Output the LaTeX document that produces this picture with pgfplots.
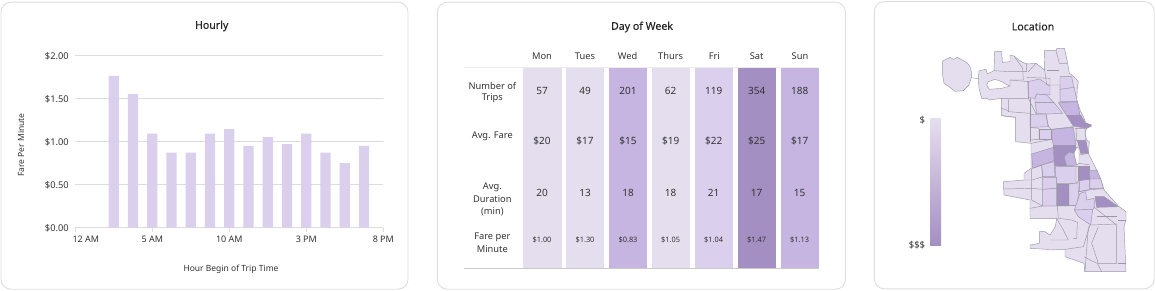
\documentclass[border=0pt]{standalone}
\usepackage{pgfplots}
\usepackage{fontspec}
\pgfplotsset{compat=1.18}
\setmainfont{Noto Sans}
\newfontfamily\titlefont[FakeBold=0.25]{Noto Sans}
\definecolor{cA}{HTML}{E5DEEF}
\definecolor{cB}{HTML}{DACFED}
\definecolor{cC}{HTML}{C5B5E0}
\definecolor{cD}{HTML}{A48FC2}
\definecolor{txt}{HTML}{333333}
\definecolor{cardline}{HTML}{DDDDDD}
\definecolor{mapline}{HTML}{9A96A4}
\definecolor{gridc}{HTML}{DCDCDC}
\pgfplotsset{
  overlayaxis/.style={scale only axis, hide axis, clip=false, y dir=reverse, ymin=0, ymax=870, xmin=0, anchor=south west},
  reg/.style={fill=#1, draw=mapline, line width=0.45pt, line join=round, mark=none, forget plot},
  ln/.style={draw=mapline, line width=0.45pt, line join=round, mark=none, forget plot},
  cell/.style={fill=#1, draw=none, mark=none, forget plot},
}
\newcommand{\tx}[4]{\node[text=txt,font=\fontsize{#3}{#3}\selectfont,anchor=center,inner sep=0pt] at (axis cs:#1,#2) {#4};}
\begin{document}
\begin{tikzpicture}[x=1pt,y=1pt]
\path[use as bounding box] (0,0) rectangle (1155,290);
\draw[cardline,line width=0.9pt,rounded corners=10pt] (1,0.8) rectangle (408,287.8);
\draw[cardline,line width=0.9pt,rounded corners=10pt] (437.3,0.8) rectangle (845.5,287.8);
\draw[cardline,line width=0.9pt,rounded corners=10pt] (874.3,1.2) rectangle (1154.2,288.5);
\node[text=black!85,font=\titlefont\fontsize{10.6}{12}\selectfont] at (211.7,264) {Hourly};
\node[text=black!85,font=\titlefont\fontsize{10.6}{12}\selectfont] at (642,263) {Day of Week};
\node[text=black!85,font=\titlefont\fontsize{10.6}{12}\selectfont] at (1033,263.5) {Location};

% ---------- Hourly bars
\begin{axis}[
  at={(75.3pt,62.3pt)}, anchor=south west, scale only axis,
  width=308pt, height=172.4pt,
  xmin=0, xmax=16, ymin=0, ymax=2,
  axis x line*=bottom, axis y line*=left,
  y axis line style={draw=none},
  x axis line style={draw=gridc,line width=0.8pt},
  xtick={0,4,8,12,16}, xticklabels={\hspace*{21pt}12 AM,5 AM,10 AM,3 PM,8 PM},
  ytick={0,0.5,1,1.5,2}, yticklabels={\$0.00,\$0.50,\$1.00,\$1.50,\$2.00},
  x tick style={draw=gridc,line width=0.8pt}, y tick style={draw=none},
  major tick length=4pt,
  tick align=outside,
  ymajorgrids, grid style={draw=gridc,line width=0.7pt},
  xticklabel style={text=txt,font=\fontsize{9}{11}\selectfont,yshift=-1pt},
  yticklabel style={text=txt,font=\fontsize{9.3}{11}\selectfont,xshift=1pt,yshift=-0.8pt},
  clip=false,
]
\addplot[ybar, bar width=10.2pt, fill=cB, draw=none] coordinates {
 (2,1.76)(3,1.55)(4,1.09)(5,0.87)(6,0.87)(7,1.09)(8,1.145)(9,0.95)(10,1.05)(11,0.97)(12,1.09)(13,0.87)(14,0.75)(15,0.95)};
\end{axis}
\node[text=txt,font=\fontsize{8.5}{10}\selectfont,rotate=90] at (21,145) {Fare Per Minute};
\node[text=txt,font=\fontsize{8.5}{10}\selectfont] at (231,20.5) {Hour Begin of Trip Time};

% ---------- Day of Week heat table
\begin{axis}[overlayaxis, at={(430pt,0pt)}, width=420pt, height=290pt, xmax=1260]
\addplot[cell=cA] coordinates {(280,205)(395,205)(395,805)(280,805)} -- cycle;
\addplot[cell=cA] coordinates {(408,205)(523,205)(523,805)(408,805)} -- cycle;
\addplot[cell=cC] coordinates {(537,205)(652,205)(652,805)(537,805)} -- cycle;
\addplot[cell=cA] coordinates {(666,205)(781,205)(781,805)(666,805)} -- cycle;
\addplot[cell=cB] coordinates {(795,205)(910,205)(910,805)(795,805)} -- cycle;
\addplot[cell=cD] coordinates {(924,205)(1039,205)(1039,805)(924,805)} -- cycle;
\addplot[cell=cC] coordinates {(1053,205)(1168,205)(1168,805)(1053,805)} -- cycle;
\addplot[draw=black!7,line width=1.6pt,forget plot] coordinates {(102,203)(1168,203)};
\addplot[draw=black!20,line width=0.7pt,forget plot] coordinates {(102,805)(1168,805)};
\tx{336}{169}{9.3}{Mon}\tx{465}{169}{9.3}{Tues}\tx{593}{169}{9.3}{Wed}\tx{722}{169}{9.3}{Thurs}\tx{853}{169}{9.3}{Fri}\tx{980}{169}{9.3}{Sat}\tx{1110}{169}{9.3}{Sun}
\tx{187}{258}{9.3}{Number of}\tx{187}{295}{9.3}{Trips}
\tx{187}{408}{9.3}{Avg. Fare}
\tx{187}{563}{9.3}{Avg.}\tx{187}{598}{9.3}{Duration}\tx{187}{634}{9.3}{(min)}
\tx{187}{711}{9.3}{Fare per}\tx{187}{746}{9.3}{Minute}
\tx{336}{273}{10}{57}\tx{465}{273}{10}{49}\tx{594}{273}{10}{201}\tx{722}{273}{10}{62}\tx{851}{273}{10}{119}\tx{980}{273}{10}{354}\tx{1109}{273}{10}{188}
\tx{336}{422}{10}{\$20}\tx{465}{422}{10}{\$17}\tx{594}{422}{10}{\$15}\tx{722}{422}{10}{\$19}\tx{851}{422}{10}{\$22}\tx{980}{422}{10}{\$25}\tx{1109}{422}{10}{\$17}
\tx{336}{578}{10}{20}\tx{465}{578}{10}{13}\tx{594}{578}{10}{18}\tx{722}{578}{10}{18}\tx{851}{578}{10}{21}\tx{980}{578}{10}{17}\tx{1109}{578}{10}{15}
\tx{336}{721}{7.4}{\$1.00}\tx{465}{721}{7.4}{\$1.30}\tx{594}{721}{7.4}{\$0.83}\tx{722}{721}{7.4}{\$1.05}\tx{851}{721}{7.4}{\$1.04}\tx{980}{721}{7.4}{\$1.47}\tx{1109}{721}{7.4}{\$1.13}
\end{axis}

% ---------- Location map
\begin{axis}[overlayaxis, at={(870pt,0pt)}, width=285pt, height=290pt, xmax=855]
% colour scale
\shade[top color=cA, middle color=cC, bottom color=cD] (axis cs:180,354) rectangle (axis cs:213,735);
\node[text=txt,font=\fontsize{9.5}{11}\selectfont,anchor=east,inner sep=0pt] at (axis cs:166,361) {\$};
\node[text=txt,font=\fontsize{9.5}{11}\selectfont,anchor=east,inner sep=0pt] at (axis cs:166,735) {\$\$\$};
% O'Hare
\addplot[reg=cA] coordinates {(218,183)(228,178)(240,172)(250,178)(262,172)(280,182)(293,190)(300,200)(304,215)(304,233)(297,255)(280,272)(255,274)(240,262)(222,250)(218,225)} -- cycle;
\addplot[ln] coordinates {(304,233)(325,236)};
% city outline
\addplot[reg=cA] coordinates {(325,236)(327,212)(348,208)(352,222)(372,212)(374,155)(395,155)(397,187)(420,185)(420,165)(432,168)(447,180)(458,187)(470,192)(498,190)(524,210)(523,152)(558,152)(560,146)(583,145)(592,185)(598,220)(612,230)(625,245)(622,262)(620,300)(630,330)(640,350)(648,370)(665,378)(650,385)(645,400)(650,420)(658,425)(655,460)(665,480)(680,510)(695,545)(702,570)(720,590)(745,618)(768,635)(768,660)(762,680)(768,815)(644,815)(642,790)(585,770)(585,748)(540,750)(530,748)(480,745)(480,735)(508,730)(508,695)(525,695)(540,705)(556,680)(560,655)(480,655)(480,600)(402,585)(400,545)(462,540)(462,520)(483,505)(483,430)(437,425)(437,352)(395,347)(395,295)(358,300)(350,295)(335,295)(327,265)} -- cycle;
% hole
\addplot[reg=white] coordinates {(355,245)(375,238)(395,245)(412,255)(420,258)(395,265)(358,268)(350,255)} -- cycle;
% shaded areas
\addplot[reg=cB] coordinates {(473,245)(508,237)(540,258)(540,285)(500,282)(495,295)(475,293)} -- cycle;
\addplot[reg=cB] coordinates {(495,295)(500,282)(530,285)(552,308)(495,308)} -- cycle;
\addplot[reg=cB] coordinates {(495,308)(552,308)(578,340)(528,342)(500,340)} -- cycle;
\addplot[reg=cB] coordinates {(570,230)(605,230)(612,265)(570,268)} -- cycle;
\addplot[reg=cB] coordinates {(570,268)(612,262)(622,305)(570,305)} -- cycle;
\addplot[reg=cC] coordinates {(565,308)(622,305)(630,345)(590,347)} -- cycle;
\addplot[reg=cD] coordinates {(590,347)(632,345)(645,368)(665,375)(650,385)(610,378)} -- cycle;
\addplot[reg=cB] coordinates {(480,343)(528,342)(535,380)(480,382)} -- cycle;
\addplot[reg=cB] coordinates {(507,388)(545,388)(545,418)(507,418)} -- cycle;
\addplot[reg=cC] coordinates {(546,388)(610,382)(618,436)(550,436)(546,415)} -- cycle;
\addplot[reg=cD] coordinates {(622,422)(648,422)(655,460)(632,460)} -- cycle;
\addplot[reg=cD] coordinates {(550,437)(615,436)(620,445)(612,460)(597,456)(582,470)(590,498)(553,497)} -- cycle;
\addplot[reg=cC] coordinates {(485,462)(550,442)(552,482)(488,505)} -- cycle;
\addplot[reg=cC] coordinates {(582,470)(597,456)(612,460)(620,495)(590,498)} -- cycle;
\addplot[reg=white] coordinates {(612,460)(620,442)(627,445)(627,490)(620,495)} -- cycle;
\addplot[reg=cB] coordinates {(515,495)(552,485)(555,530)(518,530)} -- cycle;
\addplot[reg=cB] coordinates {(556,500)(618,500)(618,550)(558,550)} -- cycle;
\addplot[reg=cD] coordinates {(625,500)(658,500)(658,540)(625,540)} -- cycle;
\addplot[reg=cC] coordinates {(658,512)(680,510)(692,537)(660,537)} -- cycle;
\addplot[reg=cB] coordinates {(660,537)(692,537)(700,566)(660,566)} -- cycle;
\addplot[reg=cB] coordinates {(628,542)(658,538)(658,570)(628,575)} -- cycle;
\addplot[reg=cD] coordinates {(562,553)(595,553)(595,617)(562,617)} -- cycle;
\addplot[reg=cB] coordinates {(597,552)(628,548)(622,617)(597,617)} -- cycle;
\addplot[reg=cB] coordinates {(518,532)(560,532)(560,565)(518,568)} -- cycle;
\addplot[reg=cB] coordinates {(518,568)(560,565)(560,618)(518,618)} -- cycle;
\addplot[reg=cD] coordinates {(675,590)(702,590)(745,620)(680,622)} -- cycle;
\addplot[reg=cB] coordinates {(630,580)(647,575)(650,600)(672,595)(675,622)(665,630)(613,630)(620,610)} -- cycle;
\addplot[reg=cB] coordinates {(613,630)(668,628)(662,675)(640,660)(625,650)} -- cycle;
% inner borders
\addplot[ln] coordinates {(372,212)(420,215)(470,215)(470,190)};
\addplot[ln] coordinates {(432,168)(458,205)(460,240)(420,240)(420,258)};
\addplot[ln] coordinates {(420,240)(475,245)(475,295)(395,295)};
\addplot[ln] coordinates {(475,215)(498,190)};
\addplot[ln] coordinates {(470,232)(540,235)(540,258)};
\addplot[ln] coordinates {(524,210)(530,255)(570,255)(570,305)};
\addplot[ln] coordinates {(558,152)(568,190)(592,190)};
\addplot[ln] coordinates {(530,210)(568,210)};
\addplot[ln] coordinates {(415,298)(415,335)(480,340)};
\addplot[ln] coordinates {(395,325)(415,332)};
\addplot[ln] coordinates {(395,347)(437,352)};
\addplot[ln] coordinates {(480,295)(480,425)};
\addplot[ln] coordinates {(475,295)(500,345)};
\addplot[ln] coordinates {(480,382)(507,385)(507,418)(483,420)};
\addplot[ln] coordinates {(528,342)(535,380)(545,388)(610,380)};
\addplot[ln] coordinates {(483,430)(546,418)};
\addplot[ln] coordinates {(615,385)(645,385)(648,420)(620,422)(618,385)};
\addplot[ln] coordinates {(488,505)(515,495)(518,530)(487,540)(462,540)};
\addplot[ln] coordinates {(400,567)(485,565)(518,568)};
\addplot[ln] coordinates {(485,505)(485,600)(518,618)};
\addplot[ln] coordinates {(480,625)(518,618)(562,618)(615,617)};
\addplot[ln] coordinates {(562,618)(565,655)(605,660)(622,667)(620,715)(610,715)};
\addplot[ln] coordinates {(560,655)(580,690)(595,720)(540,720)};
\addplot[ln] coordinates {(585,748)(640,740)(660,675)};
\addplot[ln] coordinates {(642,770)(660,780)(682,790)(695,815)};
\addplot[ln] coordinates {(685,680)(665,730)(685,790)(740,790)};
\addplot[ln] coordinates {(655,680)(645,815)};
\addplot[ln] coordinates {(670,620)(740,675)(740,790)};
\addplot[ln] coordinates {(662,675)(740,672)};
\addplot[ln] coordinates {(680,650)(740,650)};
\addplot[ln] coordinates {(745,660)(768,660)};
\addplot[ln] coordinates {(745,790)(768,790)};
\addplot[ln] coordinates {(618,500)(625,500)(628,540)(618,550)};
\addplot[ln] coordinates {(628,575)(648,570)(700,566)};
\addplot[ln] coordinates {(627,465)(655,460)};
\addplot[ln] coordinates {(627,490)(660,495)};
\end{axis}
\end{tikzpicture}
\end{document}
